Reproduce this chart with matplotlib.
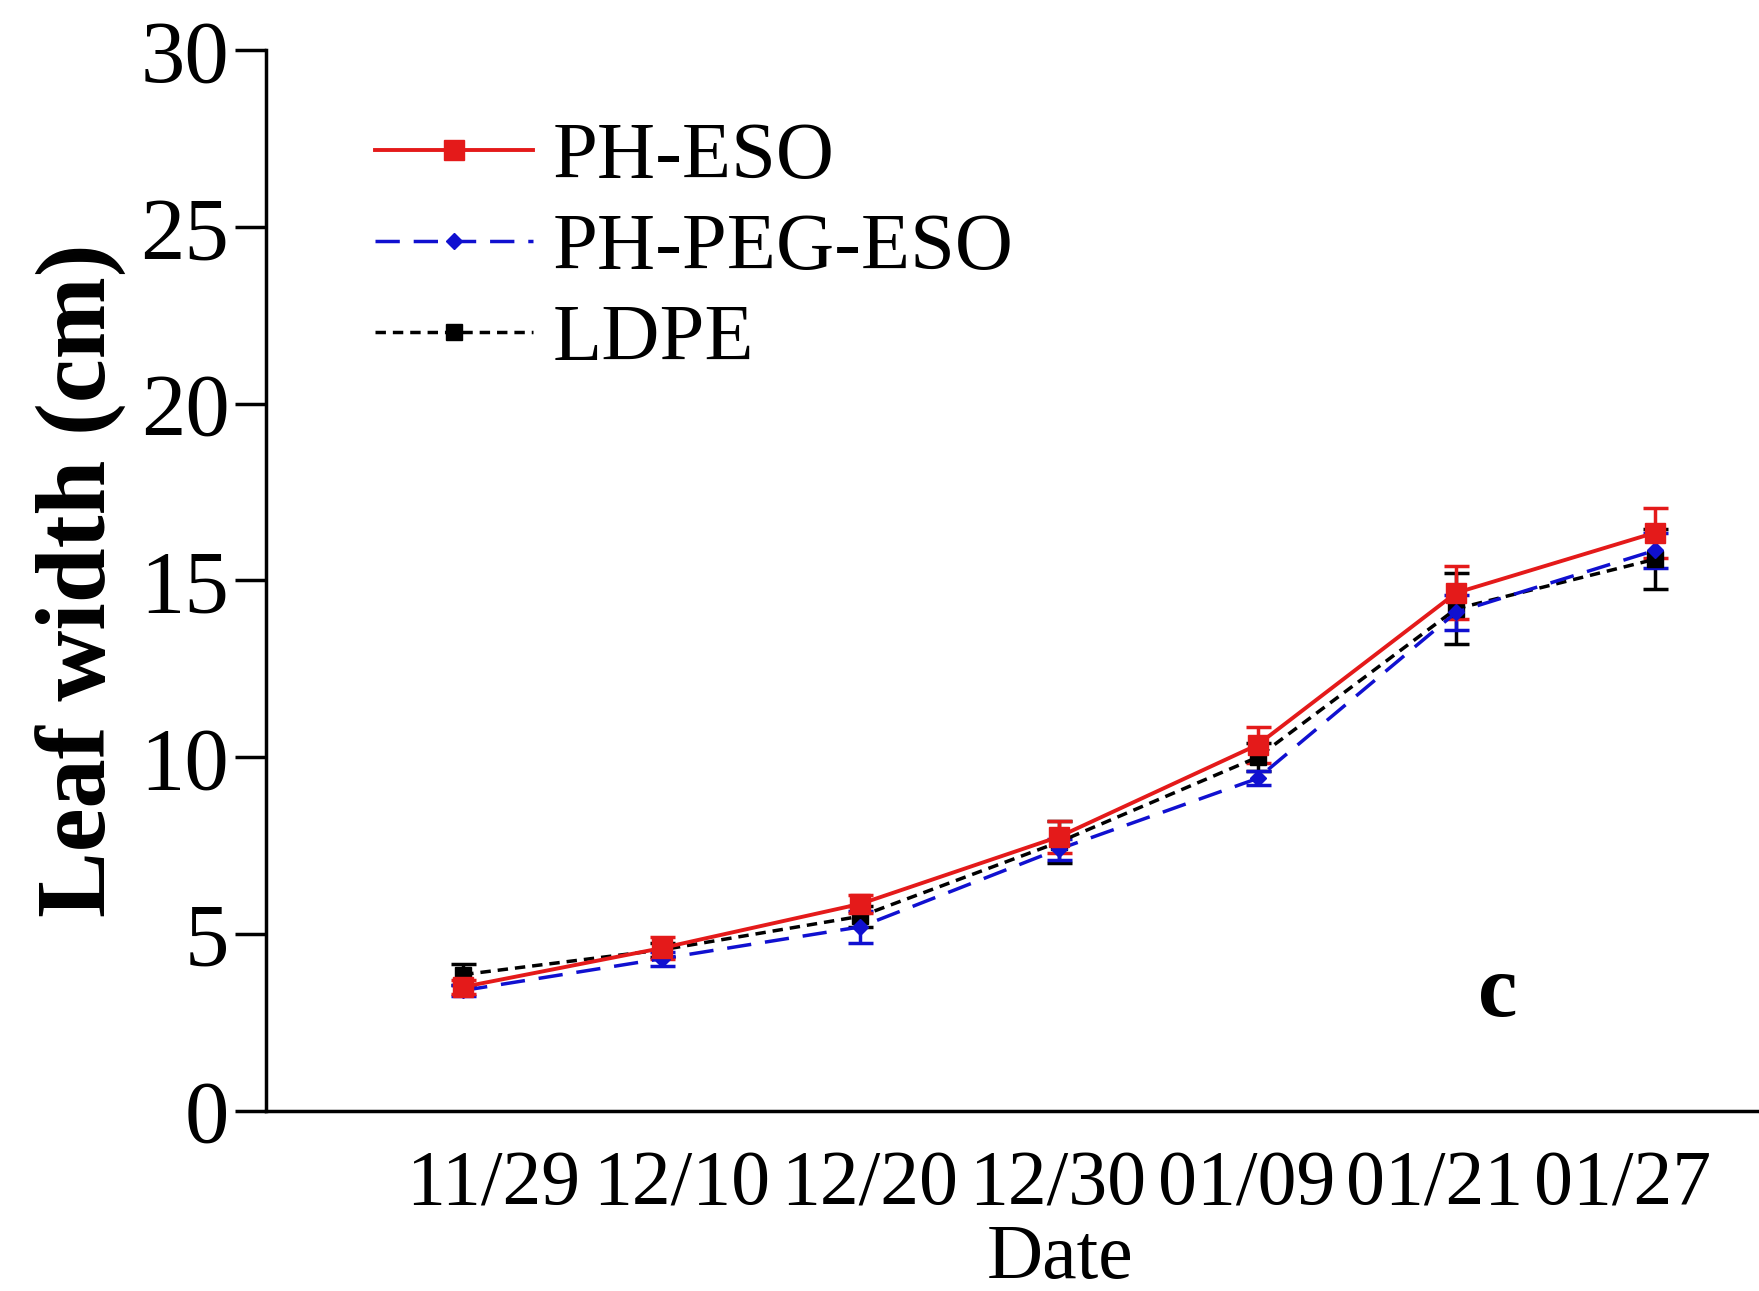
import matplotlib.pyplot as plt
import numpy as np

plt.rcParams['font.family'] = ['Liberation Serif', 'DejaVu Serif']

# Leaf width data
dates = ['11/29', '12/10', '12/20', '12/30', '01/09', '01/21', '01/27']
ph_eso = [3.5, 4.6, 5.85, 7.75, 10.35, 14.65, 16.35]
ph_eso_err = [0.2, 0.3, 0.25, 0.45, 0.5, 0.75, 0.7]
ph_peg_eso = [3.4, 4.3, 5.2, 7.4, 9.4, 14.1, 15.85]
ph_peg_eso_err = [0.15, 0.2, 0.45, 0.3, 0.2, 0.5, 0.5]
ldpe = [3.85, 4.55, 5.5, 7.6, 10.0, 14.2, 15.6]
ldpe_err = [0.3, 0.2, 0.3, 0.6, 0.4, 1.0, 0.85]

x = np.arange(len(dates))

fig = plt.figure(figsize=(17.59, 12.91), dpi=100)
ax = fig.add_axes([0.151, 0.1397, 0.849, 0.8213])

h3 = ax.errorbar(x, ldpe, yerr=ldpe_err, color='black', ls=(0, (3, 2)), lw=2.5,
                 marker='s', ms=11, capsize=9, capthick=2.5, elinewidth=2.5)
h2 = ax.errorbar(x, ph_peg_eso, yerr=ph_peg_eso_err, color='#1010d0', ls=(0, (7, 4)), lw=2.5,
                 marker='D', ms=8, capsize=9, capthick=2.5, elinewidth=2.5)
h1 = ax.errorbar(x, ph_eso, yerr=ph_eso_err, color='#e41a1a', ls='-', lw=2.8,
                 marker='s', ms=14, capsize=9, capthick=2.5, elinewidth=2.5)

ax.set_ylim(0, 30)
ax.set_xlim(-0.995, 6.525)
ax.set_yticks([0, 5, 10, 15, 20, 25, 30])
# tick labels in the original sit on a slightly tighter spacing than the points
ax.set_xticks(np.linspace(0.15, 5.84, len(dates)))
ax.set_xticklabels(dates)
ax.tick_params(axis='y', labelsize=64, direction='out', length=22, width=2.5, pad=4)
ax.tick_params(axis='x', labelsize=56, length=0, pad=28)

for s in ['top', 'right']:
    ax.spines[s].set_visible(False)
for s in ['left', 'bottom']:
    ax.spines[s].set_linewidth(2.5)

ax.set_ylabel('Leaf width (cm)', fontsize=71, fontweight='bold', labelpad=10)
ax.set_xlabel('Date', fontsize=56)
ax.xaxis.set_label_coords(0.532, -0.106)

ax.legend([h1[0], h2[0], h3[0]], ['PH-ESO', 'PH-PEG-ESO', 'LDPE'], loc='upper left',
          bbox_to_anchor=(0.052, 0.963), frameon=False, fontsize=58,
          handlelength=1.95, handletextpad=0.25, labelspacing=0.22, borderaxespad=0)

ax.text(5.21, 3.3, 'c', fontsize=64, fontweight='bold', ha='center', va='center')

fig.savefig('out.png', dpi=100)
